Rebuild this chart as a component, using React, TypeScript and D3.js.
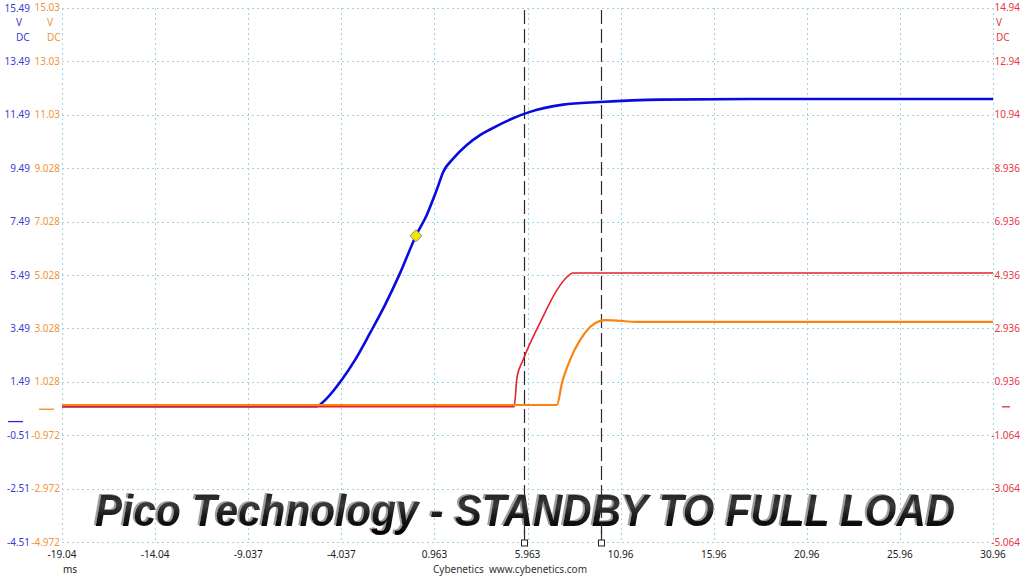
import * as d3 from 'd3';
import React, {useEffect, useRef} from 'react';

const timeTicks = ['-19.04', '-14.04', '-9.037', '-4.037', '0.963', '5.963', '10.96', '15.96', '20.96', '25.96', '30.96'];
const blueTicks = ['15.49', '13.49', '11.49', '9.49', '7.49', '5.49', '3.49', '1.49', '-0.51', '-2.51', '-4.51'];
const orangeTicks = ['15.03', '13.03', '11.03', '9.028', '7.028', '5.028', '3.028', '1.028', '-0.972', '-2.972', '-4.972'];
const redTicks = ['14.94', '12.94', '10.94', '8.936', '6.936', '4.936', '2.936', '0.936', '-1.064', '-3.064', '-5.064'];

const blueTime = [-19.04, -5.36, -4.82, -4.02, -3.30, -2.50, -1.69, -0.89, -0.03, 0.55, 1.08, 1.44, 1.98, 2.70, 3.41, 3.95, 5.18, 6.09, 7.87, 9.85, 13.08, 17.91, 30.96];
const blueVolts = [0.58, 0.58, 0.87, 1.56, 2.31, 3.31, 4.37, 5.55, 6.96, 7.74, 8.67, 9.36, 9.86, 10.36, 10.73, 10.94, 11.36, 11.60, 11.87, 11.97, 12.06, 12.08, 12.08];

const redTime = [-19.04, 5.24, 5.40, 5.72, 6.63, 7.54, 8.08, 8.40, 30.96];
const redVolts = [0.0, 0.0, 1.12, 1.75, 3.14, 4.37, 4.86, 5.01, 5.01];

const orangeTime = [-19.04, 7.54, 7.81, 8.24, 8.78, 9.32, 9.85, 10.12, 12.00, 30.96];
const orangeVolts = [0.16, 0.16, 0.98, 1.84, 2.59, 3.08, 3.31, 3.34, 3.27, 3.27];

const cursorTimes = [5.75, 9.91];
const markerTime = -0.03;
const markerVolts = 6.96;

const title = 'Pico Technology - STANDBY TO FULL LOAD';

const App: React.FC = () => {
  const chartRef = useRef<HTMLDivElement>(null);

  const initChart = () => {
    const width = 1024;
    const height = 576;
    const left = 62, right = 993, top = 8, bottom = 542;
    const font = "'Noto Sans', 'DejaVu Sans', sans-serif";

    const container = d3.select(chartRef.current);
    container.selectAll('*').remove();

    const svg = container.append('svg')
      .attr('width', width)
      .attr('height', height)
      .style('position', 'absolute')
      .style('left', 0)
      .style('top', 0)
      .style('background', '#fff');

    const x = d3.scaleLinear().domain([-19.04, 30.96]).range([left, right]);
    const yBlue = d3.scaleLinear().domain([-4.51, 15.49]).range([bottom, top]);
    const yOrange = d3.scaleLinear().domain([-4.972, 15.028]).range([bottom, top]);
    const yRed = d3.scaleLinear().domain([-5.064, 14.936]).range([bottom, top]);

    // grid
    const grid = svg.append('g')
      .attr('stroke', '#9fd2e3')
      .attr('stroke-width', 1)
      .attr('stroke-dasharray', '2,3');
    grid.selectAll('line.v').data(timeTicks).enter().append('line')
      .attr('x1', d => Math.round(x(+d)) + 0.5).attr('x2', d => Math.round(x(+d)) + 0.5)
      .attr('y1', top).attr('y2', bottom);
    grid.selectAll('line.h').data(blueTicks).enter().append('line')
      .attr('x1', left).attr('x2', right)
      .attr('y1', d => Math.round(yBlue(+d)) + 0.5).attr('y2', d => Math.round(yBlue(+d)) + 0.5);

    // left / right axis labels
    const axisText = svg.append('g').attr('font-family', font).attr('font-size', 10);
    axisText.selectAll('text.b').data(blueTicks).enter().append('text')
      .attr('x', 30).attr('y', d => yBlue(+d)).attr('dy', '0.35em')
      .attr('text-anchor', 'end').attr('fill', '#3c3cd2').text(d => d);
    axisText.selectAll('text.o').data(orangeTicks).enter().append('text')
      .attr('x', 60).attr('y', d => yOrange(+d)).attr('dy', '0.35em')
      .attr('text-anchor', 'end').attr('fill', '#f0953a').text(d => d);
    axisText.selectAll('text.r').data(redTicks).enter().append('text')
      .attr('x', 1020).attr('y', d => yRed(+d)).attr('dy', '0.35em')
      .attr('text-anchor', 'end').attr('fill', '#e8393f').text(d => d);

    const units = [
      {x: 16, color: '#3c3cd2'},
      {x: 47, color: '#f0953a'},
      {x: 996, color: '#e8393f'}
    ];
    units.forEach(u => {
      axisText.append('text').attr('x', u.x).attr('y', 26).attr('fill', u.color).text('V');
      axisText.append('text').attr('x', u.x).attr('y', 41).attr('fill', u.color).text('DC');
    });

    // zero-level markers
    svg.append('line').attr('x1', 8).attr('x2', 23).attr('y1', yBlue(0)).attr('y2', yBlue(0))
      .attr('stroke', '#2a2ad8').attr('stroke-width', 1.3);
    svg.append('line').attr('x1', 39).attr('x2', 54).attr('y1', yOrange(0)).attr('y2', yOrange(0))
      .attr('stroke', '#f58a1f').attr('stroke-width', 1.3);
    svg.append('line').attr('x1', 1002).attr('x2', 1010).attr('y1', yRed(0)).attr('y2', yRed(0))
      .attr('stroke', '#e82a33').attr('stroke-width', 1.3);

    // x axis labels
    axisText.selectAll('text.x').data(timeTicks).enter().append('text')
      .attr('x', d => x(+d)).attr('y', 558)
      .attr('text-anchor', 'middle').attr('fill', '#222').text(d => d);
    axisText.append('text').attr('x', 63).attr('y', 573).attr('fill', '#222').text('ms');
    axisText.append('text').attr('x', 510).attr('y', 573).attr('text-anchor', 'middle')
      .attr('fill', '#333').attr('xml:space', 'preserve').text('Cybenetics  www.cybenetics.com');

    // title: embossed look via a filter so it stays one text element
    const defs = svg.append('defs');
    const grad = defs.append('linearGradient').attr('id', 'titleGrad')
      .attr('x1', 0).attr('y1', 0).attr('x2', 0).attr('y2', 1);
    grad.append('stop').attr('offset', '0%').attr('stop-color', '#111');
    grad.append('stop').attr('offset', '40%').attr('stop-color', '#3a3a3a');
    grad.append('stop').attr('offset', '60%').attr('stop-color', '#1a1a1a');
    grad.append('stop').attr('offset', '100%').attr('stop-color', '#000');

    const emboss = defs.append('filter').attr('id', 'emboss')
      .attr('x', '-5%').attr('y', '-20%').attr('width', '110%').attr('height', '140%');
    emboss.append('feOffset').attr('in', 'SourceAlpha').attr('dx', -1.5).attr('dy', -1).attr('result', 'off');
    emboss.append('feFlood').attr('flood-color', '#a0a0a0').attr('result', 'gray');
    emboss.append('feComposite').attr('in', 'gray').attr('in2', 'off').attr('operator', 'in').attr('result', 'shadow');
    const merge = emboss.append('feMerge');
    merge.append('feMergeNode').attr('in', 'shadow');
    merge.append('feMergeNode').attr('in', 'SourceGraphic');

    svg.append('text')
      .attr('font-family', "'Liberation Sans', Arial, sans-serif")
      .attr('font-weight', 'bold').attr('font-style', 'italic').attr('font-size', 40)
      .attr('transform', 'translate(95,526) scale(1.016,1.12)')
      .attr('fill', 'url(#titleGrad)')
      .attr('filter', 'url(#emboss)')
      .text(title);

    // cursors
    cursorTimes.forEach(t => {
      const cx = Math.round(x(t)) + 0.5;
      svg.append('line').attr('x1', cx).attr('x2', cx).attr('y1', 10).attr('y2', 534)
        .attr('stroke', '#2b2b2b').attr('stroke-width', 1.2).attr('stroke-dasharray', '14,5');
      svg.append('line').attr('x1', cx).attr('x2', cx).attr('y1', 530).attr('y2', 540)
        .attr('stroke', '#2b2b2b').attr('stroke-width', 1.2);
      svg.append('rect').attr('x', cx - 3).attr('y', 540).attr('width', 6).attr('height', 6)
        .attr('fill', '#fff').attr('stroke', '#222').attr('stroke-width', 1);
    });

    // traces
    const line = d3.line<[number, number]>()
      .x(d => x(d[0]))
      .y(d => d[1])
      .curve(d3.curveMonotoneX);

    const bluePts = blueTime.map((t, i) => [t, yBlue(blueVolts[i])] as [number, number]);
    const redPts = redTime.map((t, i) => [t, yRed(redVolts[i])] as [number, number]);
    const orangePts = orangeTime.map((t, i) => [t, yOrange(orangeVolts[i])] as [number, number]);

    svg.append('path').attr('d', line(bluePts)).attr('fill', 'none')
      .attr('stroke', '#0a0ae0').attr('stroke-width', 2.6);
    svg.append('path').attr('d', line(redPts)).attr('fill', 'none')
      .attr('stroke', '#e4202c').attr('stroke-width', 1.6);
    svg.append('path').attr('d', line(orangePts)).attr('fill', 'none')
      .attr('stroke', '#fb8410').attr('stroke-width', 2.2);

    // marker on blue trace
    const mx = x(markerTime), my = yBlue(markerVolts);
    svg.append('path')
      .attr('d', `M${mx},${my - 6}L${mx + 6},${my}L${mx},${my + 6}L${mx - 6},${my}Z`)
      .attr('fill', '#f5e400').attr('stroke', '#8a8a70').attr('stroke-width', 1);
  }

  useEffect(() => {
    initChart()
  }, [])

  return (
    <div className='PicoChart'>
      <div className='chart-container' ref={chartRef}/>
    </div>
  )
}

export default App;
